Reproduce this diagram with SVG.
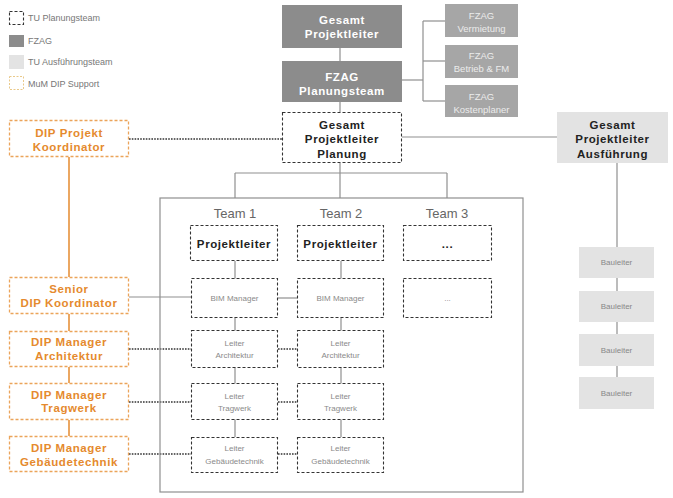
<svg xmlns="http://www.w3.org/2000/svg" width="673" height="498" viewBox="0 0 673 498">
<style>
text{font-family:"Liberation Sans",Arial,sans-serif;text-anchor:middle}
.b{font-weight:bold;font-size:11.5px;letter-spacing:0.6px}
.w{fill:#ffffff}
.k{fill:#222222}
.o{fill:#e58a2e}
.l{font-size:8px;fill:#8a8a8a}
.lg{font-size:9px;fill:#777;text-anchor:start}
.fz{fill:#a6a6a6}
.fzt{fill:#ececec;font-size:9.5px}
.dark{fill:#8c8c8c}
.light{fill:#e3e3e3}
.tu{fill:#fff;stroke:#333;stroke-width:1.1;stroke-dasharray:3 2}
.or{fill:#fff;stroke:#eba45a;stroke-width:1.3;stroke-dasharray:3 2}
.c{stroke:#8f8f8f;stroke-width:1.2;fill:none}
.oc{stroke:#e58a2e;stroke-width:1.5;fill:none}
.d{stroke:#333;stroke-width:1.6;stroke-dasharray:1.6 1.2;fill:none}
.team{font-size:13px;fill:#666}
.bl{font-size:8px;fill:#888}
</style>
<g id="legend">
<rect x="9.5" y="11.5" width="14" height="13" class="tu"/>
<text x="28" y="21" class="lg">TU Planungsteam</text>
<rect x="9" y="35" width="15" height="12" class="dark"/>
<text x="28" y="44" class="lg">FZAG</text>
<rect x="9" y="55" width="15" height="14" class="light"/>
<text x="28" y="65" class="lg">TU Ausführungsteam</text>
<rect x="9.5" y="76.5" width="14" height="13" fill="#fff" stroke="#e9c98a" stroke-width="1" stroke-dasharray="2 1.5"/>
<text x="28" y="87" class="lg">MuM DIP Support</text>
</g>
<g id="connectors">
<line x1="340" y1="48" x2="340" y2="61" class="c"/>
<line x1="402" y1="80" x2="423" y2="80" class="c"/>
<line x1="423" y1="21" x2="423" y2="101" class="c"/>
<line x1="423" y1="21" x2="445" y2="21" class="c"/>
<line x1="423" y1="61" x2="445" y2="61" class="c"/>
<line x1="423" y1="101" x2="445" y2="101" class="c"/>
<line x1="340" y1="102" x2="340" y2="112" class="c"/>
<line x1="402" y1="137" x2="557" y2="137" class="c"/>
<line x1="617" y1="163" x2="617" y2="393" class="c"/>
<line x1="340" y1="163" x2="340" y2="198" class="c"/>
<line x1="235" y1="173" x2="447" y2="173" class="c"/>
<line x1="235" y1="173" x2="235" y2="198" class="c"/>
<line x1="447" y1="173" x2="447" y2="198" class="c"/>
<line x1="129" y1="139" x2="282" y2="139" class="d"/>
<line x1="69" y1="157" x2="69" y2="277" class="oc"/>
<line x1="69" y1="314" x2="69" y2="331" class="oc"/>
<line x1="69" y1="367" x2="69" y2="383" class="oc"/>
<line x1="69" y1="420" x2="69" y2="436" class="oc"/>
<line x1="129" y1="297" x2="191" y2="297" class="c"/>
<line x1="278" y1="298" x2="297" y2="298" class="c"/>
<line x1="129" y1="349" x2="191" y2="349" class="d"/>
<line x1="278" y1="349" x2="297" y2="349" class="d"/>
<line x1="129" y1="402" x2="191" y2="402" class="d"/>
<line x1="278" y1="402" x2="297" y2="402" class="d"/>
<line x1="129" y1="454" x2="191" y2="454" class="d"/>
<line x1="278" y1="454" x2="297" y2="454" class="d"/>
<line x1="235" y1="261" x2="235" y2="437" class="c"/>
<line x1="341" y1="261" x2="341" y2="437" class="c"/>
</g>
<rect id="team-frame" x="160" y="198" width="363" height="294" fill="none" stroke="#8f8f8f" stroke-width="1.2"/>
<g id="team-labels">
<text x="235" y="218" class="team">Team 1</text>
<text x="341" y="218" class="team">Team 2</text>
<text x="447" y="218" class="team">Team 3</text>
</g>
<g id="gesamt-pl">
<rect x="282" y="5" width="120" height="43" class="dark"/>
<text x="342" y="24" class="b w">Gesamt</text>
<text x="342" y="38" class="b w">Projektleiter</text>
</g>
<g id="fzag-plan">
<rect x="282" y="61" width="120" height="41" class="dark"/>
<text x="342" y="81" class="b w">FZAG</text>
<text x="342" y="95" class="b w">Planungsteam</text>
</g>
<g id="fzag-verm">
<rect x="445" y="4" width="73" height="33" class="fz"/>
<text x="481.5" y="19" class="fzt" font-size="11.5">FZAG</text>
<text x="481.5" y="32" class="fzt">Vermietung</text>
</g>
<g id="fzag-betrieb">
<rect x="445" y="45" width="73" height="33" class="fz"/>
<text x="481.5" y="59" class="fzt" font-size="11.5">FZAG</text>
<text x="481.5" y="72" class="fzt">Betrieb &amp; FM</text>
</g>
<g id="fzag-kosten">
<rect x="445" y="85" width="73" height="32" class="fz"/>
<text x="481.5" y="100" class="fzt" font-size="11.5">FZAG</text>
<text x="481.5" y="113" class="fzt">Kostenplaner</text>
</g>
<g id="gpl-planung">
<rect x="282.5" y="112.5" width="119" height="50" class="tu"/>
<text x="342" y="129" class="b k">Gesamt</text>
<text x="342" y="143" class="b k">Projektleiter</text>
<text x="342" y="158" class="b k">Planung</text>
</g>
<g id="gpl-ausf">
<rect x="557" y="112" width="111" height="51" class="light"/>
<text x="612.5" y="129" class="b k">Gesamt</text>
<text x="612.5" y="143" class="b k">Projektleiter</text>
<text x="612.5" y="158" class="b k">Ausführung</text>
</g>
<g id="bauleiter1"><rect x="579" y="247" width="75" height="31" class="light"/><text x="616.5" y="265" class="bl">Bauleiter</text></g>
<g id="bauleiter2"><rect x="579" y="291" width="75" height="31" class="light"/><text x="616.5" y="309" class="bl">Bauleiter</text></g>
<g id="bauleiter3"><rect x="579" y="334" width="75" height="32" class="light"/><text x="616.5" y="353" class="bl">Bauleiter</text></g>
<g id="bauleiter4"><rect x="579" y="377" width="75" height="32" class="light"/><text x="616.5" y="396" class="bl">Bauleiter</text></g>
<g id="dip-pk">
<rect x="9.5" y="120.5" width="119" height="36" class="or"/>
<text x="69" y="137" class="b o">DIP Projekt</text>
<text x="69" y="151" class="b o">Koordinator</text>
</g>
<g id="dip-senior">
<rect x="9.5" y="277.5" width="119" height="36" class="or"/>
<text x="69" y="293" class="b o">Senior</text>
<text x="69" y="307" class="b o">DIP Koordinator</text>
</g>
<g id="dip-arch">
<rect x="9.5" y="331.5" width="119" height="35" class="or"/>
<text x="69" y="346" class="b o">DIP Manager</text>
<text x="69" y="360" class="b o">Architektur</text>
</g>
<g id="dip-trag">
<rect x="9.5" y="383.5" width="119" height="36" class="or"/>
<text x="69" y="399" class="b o">DIP Manager</text>
<text x="69" y="412" class="b o">Tragwerk</text>
</g>
<g id="dip-geb">
<rect x="9.5" y="436.5" width="119" height="35" class="or"/>
<text x="69" y="452" class="b o">DIP Manager</text>
<text x="69" y="466" class="b o">Gebäudetechnik</text>
</g>
<g id="t1-pl"><rect x="190.5" y="225.5" width="87" height="35" class="tu"/><text x="234" y="248" class="b k">Projektleiter</text></g>
<g id="t2-pl"><rect x="297.5" y="225.5" width="86" height="35" class="tu"/><text x="340.5" y="248" class="b k">Projektleiter</text></g>
<g id="t3-pl"><rect x="403.5" y="225.5" width="88" height="35" class="tu"/><text x="447.5" y="248" class="b k">...</text></g>
<g id="t1-bim"><rect x="191.5" y="278.5" width="86" height="39" class="tu"/><text x="234.5" y="301" class="l">BIM Manager</text></g>
<g id="t2-bim"><rect x="297.5" y="278.5" width="86" height="39" class="tu"/><text x="340.5" y="301" class="l">BIM Manager</text></g>
<g id="t3-bim"><rect x="403.5" y="278.5" width="88" height="39" class="tu"/><text x="447.5" y="301" class="l">...</text></g>
<g id="t1-arch"><rect x="191.5" y="330.5" width="86" height="37" class="tu"/><text x="234.5" y="346" class="l">Leiter</text><text x="234.5" y="358" class="l">Architektur</text></g>
<g id="t2-arch"><rect x="297.5" y="330.5" width="86" height="37" class="tu"/><text x="340.5" y="346" class="l">Leiter</text><text x="340.5" y="358" class="l">Architektur</text></g>
<g id="t1-trag"><rect x="191.5" y="383.5" width="86" height="36" class="tu"/><text x="234.5" y="399" class="l">Leiter</text><text x="234.5" y="411" class="l">Tragwerk</text></g>
<g id="t2-trag"><rect x="297.5" y="383.5" width="86" height="36" class="tu"/><text x="340.5" y="399" class="l">Leiter</text><text x="340.5" y="411" class="l">Tragwerk</text></g>
<g id="t1-geb"><rect x="191.5" y="437.5" width="86" height="35" class="tu"/><text x="234.5" y="451" class="l">Leiter</text><text x="234.5" y="464" class="l">Gebäudetechnik</text></g>
<g id="t2-geb"><rect x="297.5" y="437.5" width="86" height="35" class="tu"/><text x="340.5" y="451" class="l">Leiter</text><text x="340.5" y="464" class="l">Gebäudetechnik</text></g>
</svg>
